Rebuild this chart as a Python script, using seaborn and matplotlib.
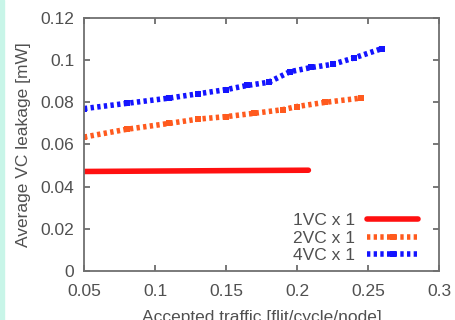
import pandas as pd
import matplotlib.pyplot as plt
import seaborn as sns

# Values
traffic_1vc = [0.05, 0.10, 0.15, 0.208]
leak_1vc = [0.0472, 0.0474, 0.0476, 0.0478]

traffic_2vc = [0.05, 0.08, 0.11, 0.13, 0.15, 0.17, 0.19, 0.20, 0.22, 0.245]
leak_2vc = [0.0635, 0.0672, 0.0700, 0.0720, 0.0732, 0.0748, 0.0765, 0.0780, 0.0800, 0.0820]

traffic_4vc = [0.05, 0.08, 0.11, 0.13, 0.15, 0.165, 0.18, 0.195, 0.21, 0.225, 0.24, 0.26]
leak_4vc = [0.0770, 0.0795, 0.0820, 0.0840, 0.0860, 0.0880, 0.0895, 0.0945, 0.0965, 0.0980, 0.1010, 0.1055]

labels = ['1VC x 1', '2VC x 1', '4VC x 1']
colors = ['#ff1010', '#ff5a1e', '#1414ff']

sns.set_style('ticks')
plt.rcParams['font.family'] = ['Liberation Sans', 'DejaVu Sans']
text_col = '#505050'

fig = plt.figure(figsize=(4.55, 3.2), dpi=100)
fig.patch.set_facecolor('white')
ax = fig.add_axes([0.1846, 0.153, 0.7804, 0.791])

dot = (0, (0.6, 0.6))
sns.lineplot(x=traffic_1vc, y=leak_1vc, color=colors[0], lw=4, ax=ax, label=labels[0])
sns.lineplot(x=traffic_2vc, y=leak_2vc, color=colors[1], lw=4, ls=dot,
             marker='s', markersize=4, markeredgewidth=0, ax=ax, label=labels[1])
sns.lineplot(x=traffic_4vc, y=leak_4vc, color=colors[2], lw=4, ls=dot,
             marker='s', markersize=4, markeredgewidth=0, ax=ax, label=labels[2])

ax.set_xlim(0.05, 0.3)
ax.set_ylim(0, 0.12)
ax.set_xticks([0.05, 0.1, 0.15, 0.2, 0.25, 0.3])
ax.set_xticklabels(['0.05', '0.1', '0.15', '0.2', '0.25', '0.3'])
ax.set_yticks([0, 0.02, 0.04, 0.06, 0.08, 0.1, 0.12])
ax.set_yticklabels(['0', '0.02', '0.04', '0.06', '0.08', '0.1', '0.12'])
ax.tick_params(direction='in', top=True, right=True, length=4, width=1.2,
               color='#606060', labelcolor=text_col, labelsize=12.5)
ax.tick_params(axis='x', pad=9)
ax.tick_params(axis='y', pad=7)
for s in ax.spines.values():
    s.set_color('#707070')
    s.set_linewidth(1.3)

ax.set_xlabel('Accepted traffic [flit/cycle/node]', fontsize=12.5, color=text_col, labelpad=8)
ax.set_ylabel('Average VC leakage [mW]', fontsize=12.5, color=text_col, labelpad=7)

leg = ax.legend(loc='lower right', frameon=False, markerfirst=False,
                fontsize=12.5, handlelength=2.95, handletextpad=0.7, labelspacing=0.12,
                bbox_to_anchor=(0.9615, 0.005), borderaxespad=0)
for t in leg.get_texts():
    t.set_color(text_col)

# thin cyan strip on the left edge of the reference
fig.patches.append(plt.Rectangle((0, 0), 0.008, 1, transform=fig.transFigure,
                                 color='#c8f5e8', zorder=-1))

plt.savefig('out.png', dpi=100)
